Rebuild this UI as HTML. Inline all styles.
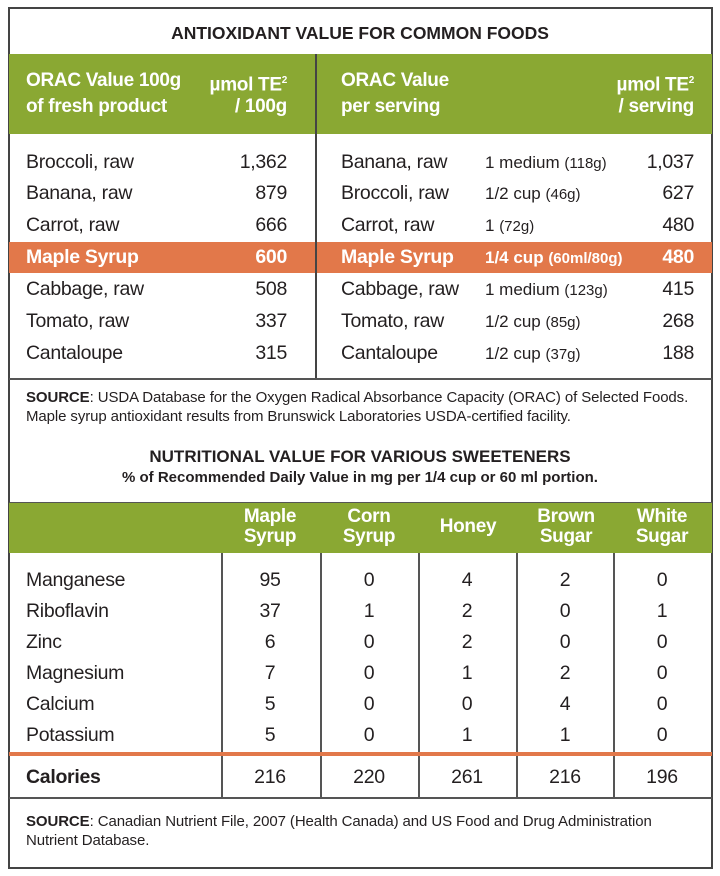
<!DOCTYPE html>
<html><head><meta charset="utf-8"><style>
*{margin:0;padding:0;box-sizing:border-box}
body{width:720px;height:876px;background:#fff;position:relative;font-family:"Liberation Sans",sans-serif;color:#231f20;overflow:hidden}
.a{position:absolute;white-space:nowrap;line-height:22px}
.t{font-size:19.5px;letter-spacing:-0.3px}
.r{text-align:right}
.c{text-align:center;width:90px;margin-left:-45px}
.w{color:#fff;font-weight:bold}
.h{font-size:19px;font-weight:bold;color:#fff;letter-spacing:-0.3px}
.s{font-size:15px;letter-spacing:-0.1px}
.sv{font-size:17px}
.sv span{font-size:15px}
.box{position:absolute}
</style></head><body>
<div class="box" style="left:8px;top:7px;width:705px;height:862px;border:2px solid #444"></div>
<div class="box" style="left:9px;top:54px;width:703px;height:80px;background:#8aa833"></div>
<div class="box" style="left:9px;top:242px;width:703px;height:31px;background:#e2784a"></div>
<div class="box" style="left:315px;top:54px;width:1.5px;height:325px;background:#444"></div>
<div class="box" style="left:9px;top:378px;width:703px;height:1.5px;background:#555"></div>

<div class="a" style="left:0;width:720px;top:22px;text-align:center;font-weight:bold;font-size:17.5px">ANTIOXIDANT VALUE FOR COMMON FOODS</div>
<div class="a h" style="left:26px;top:70px">ORAC Value 100g</div>
<div class="a h" style="left:26px;top:96px">of fresh product</div>
<div class="a h r" style="right:433px;top:70px">µmol TE<sup style="font-size:10px">2</sup></div>
<div class="a h r" style="right:433px;top:96px">/ 100g</div>
<div class="a h" style="left:341px;top:70px">ORAC Value</div>
<div class="a h" style="left:341px;top:96px">per serving</div>
<div class="a h r" style="right:26px;top:70px">µmol TE<sup style="font-size:10px">2</sup></div>
<div class="a h r" style="right:26px;top:96px">/ serving</div>

<div class="a t" style="left:26px;top:151px">Broccoli, raw</div><div class="a t r" style="right:433px;top:151px">1,362</div>
<div class="a t" style="left:26px;top:182px">Banana, raw</div><div class="a t r" style="right:433px;top:182px">879</div>
<div class="a t" style="left:26px;top:214px">Carrot, raw</div><div class="a t r" style="right:433px;top:214px">666</div>
<div class="a t w" style="left:26px;top:246px">Maple Syrup</div><div class="a t r w" style="right:433px;top:246px">600</div>
<div class="a t" style="left:26px;top:278px">Cabbage, raw</div><div class="a t r" style="right:433px;top:278px">508</div>
<div class="a t" style="left:26px;top:310px">Tomato, raw</div><div class="a t r" style="right:433px;top:310px">337</div>
<div class="a t" style="left:26px;top:342px">Cantaloupe</div><div class="a t r" style="right:433px;top:342px">315</div>

<div class="a t" style="left:341px;top:151px">Banana, raw</div><div class="a sv" style="left:485px;top:152px">1 medium <span>(118g)</span></div><div class="a t r" style="right:26px;top:151px">1,037</div>
<div class="a t" style="left:341px;top:182px">Broccoli, raw</div><div class="a sv" style="left:485px;top:183px">1/2 cup <span>(46g)</span></div><div class="a t r" style="right:26px;top:182px">627</div>
<div class="a t" style="left:341px;top:214px">Carrot, raw</div><div class="a sv" style="left:485px;top:215px">1 <span>(72g)</span></div><div class="a t r" style="right:26px;top:214px">480</div>
<div class="a t w" style="left:341px;top:246px">Maple Syrup</div><div class="a sv w" style="left:485px;top:247px">1/4 cup <span>(60ml/80g)</span></div><div class="a t r w" style="right:26px;top:246px">480</div>
<div class="a t" style="left:341px;top:278px">Cabbage, raw</div><div class="a sv" style="left:485px;top:279px">1 medium <span>(123g)</span></div><div class="a t r" style="right:26px;top:278px">415</div>
<div class="a t" style="left:341px;top:310px">Tomato, raw</div><div class="a sv" style="left:485px;top:311px">1/2 cup <span>(85g)</span></div><div class="a t r" style="right:26px;top:310px">268</div>
<div class="a t" style="left:341px;top:342px">Cantaloupe</div><div class="a sv" style="left:485px;top:343px">1/2 cup <span>(37g)</span></div><div class="a t r" style="right:26px;top:342px">188</div>

<div class="a s" style="left:26px;top:387px"><b>SOURCE</b>: USDA Database for the Oxygen Radical Absorbance Capacity (ORAC) of Selected Foods.</div>
<div class="a s" style="left:26px;top:406px">Maple syrup antioxidant results from Brunswick Laboratories USDA-certified facility.</div>

<div class="a" style="left:0;width:720px;top:446px;text-align:center;font-weight:bold;font-size:17px">NUTRITIONAL VALUE FOR VARIOUS SWEETENERS</div>
<div class="a" style="left:0;width:720px;top:467px;text-align:center;font-weight:bold;font-size:15px">% of Recommended Daily Value in mg per 1/4 cup or 60 ml portion.</div>

<div class="box" style="left:9px;top:502px;width:703px;height:2px;background:#555"></div>
<div class="box" style="left:9px;top:503px;width:703px;height:50px;background:#8aa833"></div>
<div class="box" style="left:221px;top:553px;width:1.5px;height:245px;background:#555"></div>
<div class="box" style="left:320px;top:553px;width:1.5px;height:245px;background:#555"></div>
<div class="box" style="left:418px;top:553px;width:1.5px;height:245px;background:#555"></div>
<div class="box" style="left:516px;top:553px;width:1.5px;height:245px;background:#555"></div>
<div class="box" style="left:613px;top:553px;width:1.5px;height:245px;background:#555"></div>
<div class="box" style="left:9px;top:752px;width:703px;height:4px;background:#e2784a"></div>
<div class="box" style="left:9px;top:797px;width:703px;height:1.5px;background:#555"></div>

<div class="a h c" style="left:270px;top:507px;line-height:20px">Maple<br>Syrup</div>
<div class="a h c" style="left:369px;top:507px;line-height:20px">Corn<br>Syrup</div>
<div class="a h c" style="left:468px;top:516px">Honey</div>
<div class="a h c" style="left:566px;top:507px;line-height:20px">Brown<br>Sugar</div>
<div class="a h c" style="left:662px;top:507px;line-height:20px">White<br>Sugar</div>

<div class="a t" style="left:26px;top:569px">Manganese</div>
<div class="a t" style="left:26px;top:600px">Riboflavin</div>
<div class="a t" style="left:26px;top:631px">Zinc</div>
<div class="a t" style="left:26px;top:662px">Magnesium</div>
<div class="a t" style="left:26px;top:693px">Calcium</div>
<div class="a t" style="left:26px;top:724px">Potassium</div>
<div class="a t" style="left:26px;top:766px;font-weight:bold">Calories</div>

<div class="a t c" style="left:270px;top:569px">95</div><div class="a t c" style="left:369px;top:569px">0</div><div class="a t c" style="left:467px;top:569px">4</div><div class="a t c" style="left:565px;top:569px">2</div><div class="a t c" style="left:662px;top:569px">0</div>
<div class="a t c" style="left:270px;top:600px">37</div><div class="a t c" style="left:369px;top:600px">1</div><div class="a t c" style="left:467px;top:600px">2</div><div class="a t c" style="left:565px;top:600px">0</div><div class="a t c" style="left:662px;top:600px">1</div>
<div class="a t c" style="left:270px;top:631px">6</div><div class="a t c" style="left:369px;top:631px">0</div><div class="a t c" style="left:467px;top:631px">2</div><div class="a t c" style="left:565px;top:631px">0</div><div class="a t c" style="left:662px;top:631px">0</div>
<div class="a t c" style="left:270px;top:662px">7</div><div class="a t c" style="left:369px;top:662px">0</div><div class="a t c" style="left:467px;top:662px">1</div><div class="a t c" style="left:565px;top:662px">2</div><div class="a t c" style="left:662px;top:662px">0</div>
<div class="a t c" style="left:270px;top:693px">5</div><div class="a t c" style="left:369px;top:693px">0</div><div class="a t c" style="left:467px;top:693px">0</div><div class="a t c" style="left:565px;top:693px">4</div><div class="a t c" style="left:662px;top:693px">0</div>
<div class="a t c" style="left:270px;top:724px">5</div><div class="a t c" style="left:369px;top:724px">0</div><div class="a t c" style="left:467px;top:724px">1</div><div class="a t c" style="left:565px;top:724px">1</div><div class="a t c" style="left:662px;top:724px">0</div>
<div class="a t c" style="left:270px;top:766px">216</div><div class="a t c" style="left:369px;top:766px">220</div><div class="a t c" style="left:467px;top:766px">261</div><div class="a t c" style="left:565px;top:766px">216</div><div class="a t c" style="left:662px;top:766px">196</div>

<div class="a s" style="left:26px;top:811px"><b>SOURCE</b>: Canadian Nutrient File, 2007 (Health Canada) and US Food and Drug Administration</div>
<div class="a s" style="left:26px;top:830px">Nutrient Database.</div>
</body></html>
